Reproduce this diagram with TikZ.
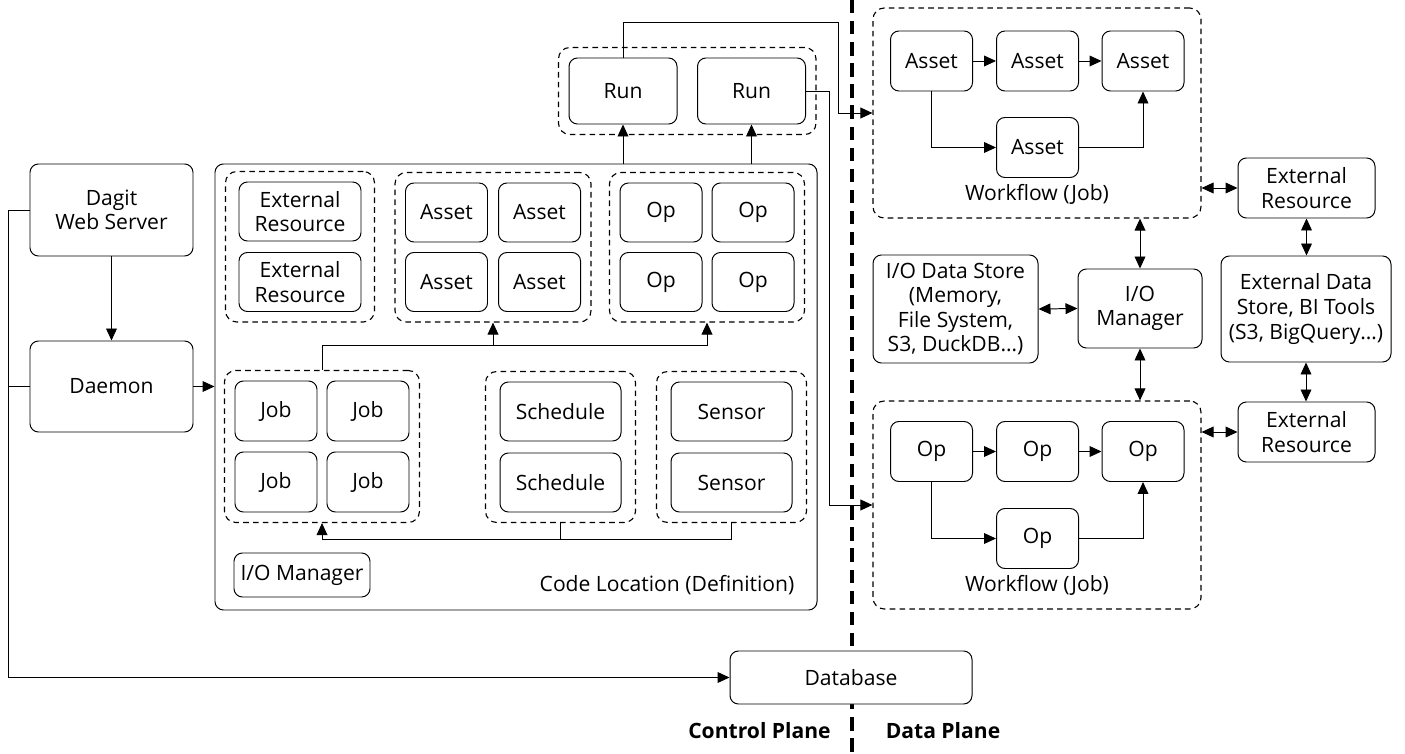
\documentclass[tikz,border=0pt]{standalone}
\usepackage{fontspec}
\setmainfont{Open Sans}
\usepackage{tikz}
\usetikzlibrary{positioning, arrows.meta, calc, fit}

\begin{document}
\begin{tikzpicture}[
  x=0.025cm, y=-0.025cm,
  font=\fontsize{15}{17.5}\selectfont,
  box/.style={draw, rounded corners=6pt, align=center, inner sep=0pt,
              fill=white, line width=0.7pt},
  wh/.style 2 args={minimum width=#1*0.025cm, minimum height=#2*0.025cm},
  group/.style={draw, dash pattern=on 4pt off 3pt, rounded corners=8pt,
                inner sep=0.25cm, line width=0.8pt},
  arrow/.style={-{Triangle[length=3mm, width=2.7mm]}, line width=0.7pt},
  biarrow/.style={{Triangle[length=3mm, width=2.7mm]}-{Triangle[length=3mm, width=2.7mm]},
                  line width=0.7pt},
  link/.style={line width=0.7pt},
  plane/.style={font=\fontsize{15}{17.5}\selectfont\bfseries},
]
  \useasboundingbox (0,0) rectangle (1405,754);
  % Plane divider
  \draw[line width=2.2pt, dash pattern=on 9.5pt off 5.5pt] (852,0) -- (852,754);
  % Control plane
  \node[box, wh={163}{92}] (dagit) at (111.5,210) {Dagit\\Web Server};
  \node[box, wh={163}{91}] (daemon) at (111.5,386.5) {Daemon};
  \node[box, wh={602}{446}] (codeloc) at (516,387) {};
  \node (codelabel) at (667,585) {Code Location (Definition)};
  % Resources
  \node[box, wh={122}{59}] (res1) at (300,211.5) {External\\Resource};
  \node[box, wh={122}{59}] (res2) at (300,282) {External\\Resource};
  \node[group, inner xsep=0.325cm, fit=(res1)(res2)] (resgrp) {};
  % Assets
  \node[box, wh={82}{59}] (as1) at (446.5,212.5) {Asset};
  \node[box, wh={82}{59}] (as2) at (539.5,212.5) {Asset};
  \node[box, wh={82}{59}] (as3) at (446.5,282) {Asset};
  \node[box, wh={82}{59}] (as4) at (539.5,282) {Asset};
  \node[group, fit=(as1)(as4)] (assetgrp) {};
  % Ops
  \node[box, wh={82}{59}] (op1) at (661,212.5) {Op};
  \node[box, wh={82}{59}] (op2) at (753,212.5) {Op};
  \node[box, wh={82}{59}] (op3) at (661,282) {Op};
  \node[box, wh={82}{59}] (op4) at (753,282) {Op};
  \node[group, fit=(op1)(op4)] (opgrp) {};
  % Jobs
  \node[box, wh={82}{60}] (job1) at (276,411) {Job};
  \node[box, wh={82}{60}] (job2) at (368,411) {Job};
  \node[box, wh={82}{60}] (job3) at (276,482) {Job};
  \node[box, wh={82}{60}] (job4) at (368,482) {Job};
  \node[group, fit=(job1)(job4)] (jobgrp) {};
  % Schedules and sensors
  \node[box, wh={121}{59}] (sched1) at (560.5,411.5) {Schedule};
  \node[box, wh={121}{59}] (sched2) at (560.5,482.5) {Schedule};
  \node[group, inner xsep=0.35cm, fit=(sched1)(sched2)] (schedgrp) {};
  \node[box, wh={121}{59}] (sens1) at (731.5,411.5) {Sensor};
  \node[box, wh={121}{59}] (sens2) at (731.5,482.5) {Sensor};
  \node[group, inner xsep=0.35cm, fit=(sens1)(sens2)] (sensgrp) {};
  \node[box, wh={136}{44}] (iodef) at (302,575) {I/O Manager};
  % Runs
  \node[box, wh={108}{66}] (run1) at (623,91) {Run};
  \node[box, wh={108}{66}] (run2) at (751.5,91) {Run};
  \node[group, fit=(run1)(run2)] (rungrp) {};
  % Database
  \node[box, wh={242}{53}] (db) at (851,677.5) {Database};
  \node[plane] (ctrl) at (759.5,731) {Control Plane};
  \node[plane] (data) at (943,731) {Data Plane};
  % Data plane: asset workflow
  \node[group, wh={328}{210}, inner sep=0pt] (wf1) at (1037,113) {};
  \node[box, wh={82}{60}] (wa1) at (931.5,61) {Asset};
  \node[box, wh={82}{60}] (wa2) at (1037.5,61) {Asset};
  \node[box, wh={82}{60}] (wa3) at (1143,61) {Asset};
  \node[box, wh={82}{60}] (wa4) at (1037.5,147.5) {Asset};
  \node (wf1label) at (1037,194) {Workflow (Job)};
  % Data plane: op workflow
  \node[group, wh={328}{208}, inner sep=0pt] (wf2) at (1037,505) {};
  \node[box, wh={82}{60}] (wo1) at (931.5,451.5) {Op};
  \node[box, wh={82}{60}] (wo2) at (1037.5,451.5) {Op};
  \node[box, wh={82}{60}] (wo3) at (1143,451.5) {Op};
  \node[box, wh={82}{60}] (wo4) at (1037.5,538.5) {Op};
  \node (wf2label) at (1037,585) {Workflow (Job)};
  % I/O and external
  \node[box, wh={165}{108}] (store) at (955.5,309)
    {I/O Data Store\\(Memory,\\File System,\\S3, DuckDB…)};
  \node[box, wh={124}{79}] (iomgr) at (1140,308.5) {I/O\\Manager};
  \node[box, wh={137}{60}] (ext1) at (1306.5,188) {External\\Resource};
  \node[box, wh={170}{106}] (extstore) at (1306,309)
    {External Data\\Store, BI Tools\\(S3, BigQuery…)};
  \node[box, wh={137}{60}] (ext2) at (1306.5,432) {External\\Resource};
  % Control plane links
  \draw[arrow] (dagit) -- (daemon);
  \draw[arrow] (dagit.west) -- ++(-21,0) |- (db.west);
  \draw[link] (daemon.west) -- ++(-21,0);
  \draw[arrow] (daemon.east) -- (daemon.east -| codeloc.west);
  \draw[arrow] (run1.south |- codeloc.north) -- (run1.south);
  \draw[arrow] (run2.south |- codeloc.north) -- (run2.south);
  \coordinate (jbus) at ($(jobgrp.north)+(0,-24)$);
  \draw[arrow] (jobgrp.north) -- (jbus) -| (opgrp.south);
  \draw[arrow] (jbus -| assetgrp.south) -- (assetgrp.south);
  \coordinate (sbus) at ($(sensgrp.south)+(0,16)$);
  \draw[arrow] (sensgrp.south) -- (sbus) -| (jobgrp.south);
  \draw[link] (schedgrp.south) -- (schedgrp.south |- sbus);
  % Runs to workflows
  \coordinate (bend1) at (838,22);
  \draw[arrow] (run1.north) |- (bend1) |- (wf1.west);
  \coordinate (bend2) at (829,91);
  \draw[arrow] (run2.east) -- (bend2) |- (wf2.west);
  % Workflow links
  \draw[arrow] (wa1) -- (wa2);
  \draw[arrow] (wa2) -- (wa3);
  \draw[arrow] (wa1.south) |- (wa4.west);
  \draw[arrow] (wa4.east) -| (wa3.south);
  \draw[arrow] (wo1) -- (wo2);
  \draw[arrow] (wo2) -- (wo3);
  \draw[arrow] (wo1.south) |- (wo4.west);
  \draw[arrow] (wo4.east) -| (wo3.south);
  % Data plane links
  \draw[biarrow] (ext1.west -| wf1.east) -- (ext1.west);
  \draw[biarrow] (ext2.west -| wf2.east) -- (ext2.west);
  \draw[biarrow] (iomgr.north |- wf1.south) -- (iomgr.north);
  \draw[biarrow] (iomgr.south) -- (iomgr.south |- wf2.north);
  \draw[biarrow] (store.east) -- (iomgr.west);
  \draw[biarrow] (ext1.south) -- (ext1.south |- extstore.north);
  \draw[biarrow] (extstore.south) -- (extstore.south |- ext2.north);
\end{tikzpicture}
\end{document}
